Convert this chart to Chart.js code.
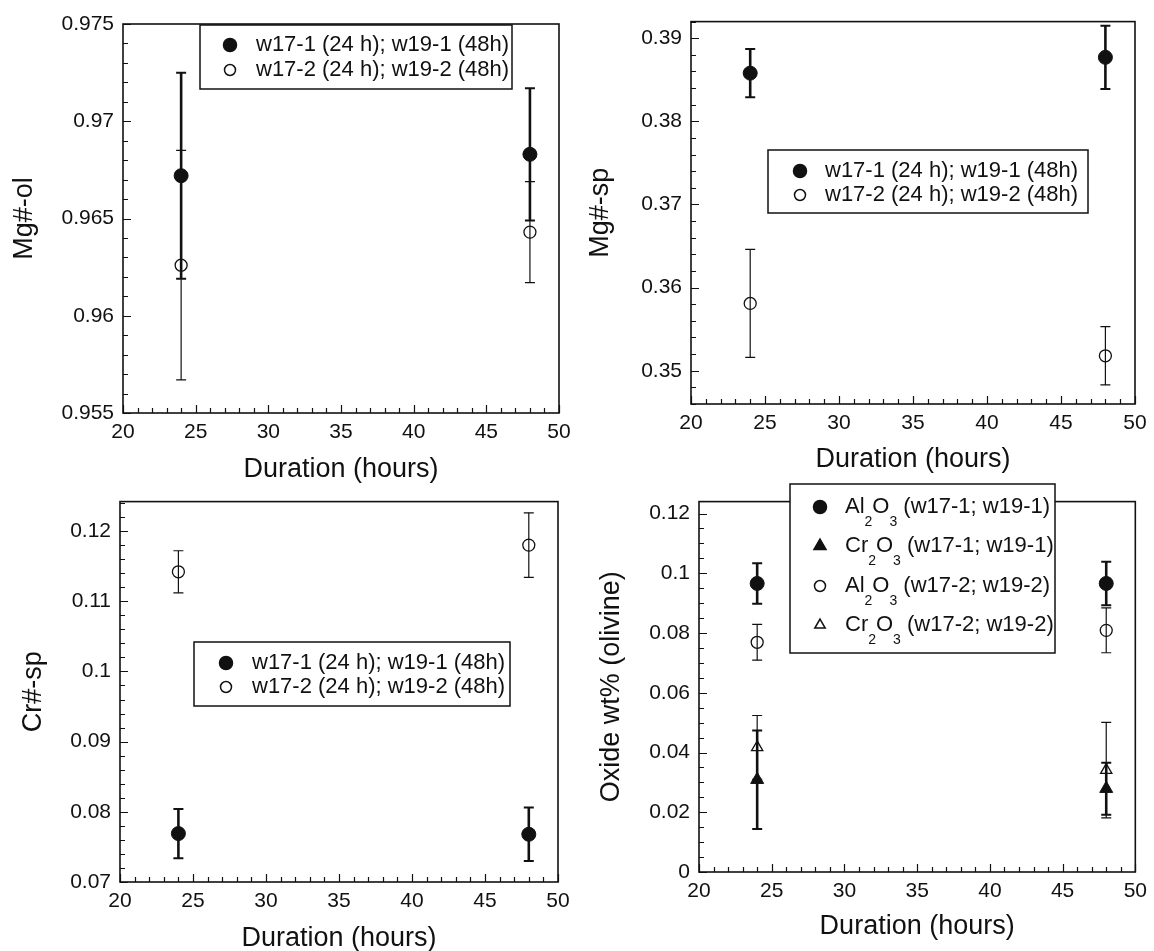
<!DOCTYPE html>
<html>
<head>
<meta charset="utf-8">
<script src="https://cdn.jsdelivr.net/npm/chart.js@4.4.1/dist/chart.umd.min.js"></script>
<style>
    html, body { margin: 0; background: #fff; overflow: hidden; }
    #tela { position: relative; width: 1154px; height: 951px; }
    canvas { position: absolute; }
</style>
</head>
<body>
<div id="tela">
    <canvas id="grafico-mg-ol"></canvas>
    <canvas id="grafico-mg-sp"></canvas>
    <canvas id="grafico-cr-sp"></canvas>
    <canvas id="grafico-oxido"></canvas>
</div>
<script>
// Duração dos experimentos (h)
const horas = [24, 48];

// Mg#-ol
const mgOl1 = [0.9672, 0.9683];
const mgOl1Erro = [0.0053, 0.0034];
const mgOl2 = [0.9626, 0.9643];
const mgOl2Erro = [0.0059, 0.0026];

// Mg#-sp
const mgSp1 = [0.3858, 0.3877];
const mgSp1Erro = [0.0029, 0.0038];
const mgSp2 = [0.3581, 0.3518];
const mgSp2Erro = [0.0065, 0.0035];

// Cr#-sp
const crSp1 = [0.0769, 0.0768];
const crSp1Erro = [0.0035, 0.0038];
const crSp2 = [0.1142, 0.1180];
const crSp2Erro = [0.0030, 0.0046];

// Oxide wt% (olivine)
const al1 = [0.0966, 0.0966];
const al1Erro = [0.0068, 0.0073];
const cr1 = [0.0309, 0.0279];
const cr1Erro = [0.0165, 0.0087];
const al2 = [0.0769, 0.0809];
const al2Erro = [0.0060, 0.0075];
const cr2 = [0.0417, 0.0341];
const cr2Erro = [0.0107, 0.0160];

// Ticks
const xTicks = [20, 25, 30, 35, 40, 45, 50];
const yTicksMgOl = [0.955, 0.96, 0.965, 0.97, 0.975];
const yTicksMgSp = [0.35, 0.36, 0.37, 0.38, 0.39];
const yTicksCrSp = [0.07, 0.08, 0.09, 0.1, 0.11, 0.12];
const yTicksOxido = [0, 0.02, 0.04, 0.06, 0.08, 0.1, 0.12];

const preto = '#111';
const fonte = "'Liberation Sans', Arial, Helvetica, sans-serif";
Chart.defaults.font.family = fonte;
Chart.defaults.color = preto;

function serie(label, valores, erros, tipo) {
    const cheio = tipo === 'circulo' || tipo === 'triangulo';
    const tri = tipo === 'triangulo' || tipo === 'triAberto';
    return {
        label: label,
        data: horas.map((h, i) => ({ x: h, y: valores[i] })),
        erros: erros,
        pointStyle: tri ? 'triangle' : 'circle',
        pointRadius: tri ? (cheio ? 7.5 : 6.5) : (cheio ? 7 : 6),
        backgroundColor: cheio ? preto : 'rgba(0,0,0,0)',
        borderColor: preto,
        borderWidth: cheio ? 1 : 1.3,
        larguraErro: cheio ? 2.6 : 1.2,
        showLine: false
    };
}

// barras de erro, desenhadas pela escala do próprio gráfico
const barrasErro = {
    id: 'barrasErro',
    beforeDatasetsDraw(chart) {
        const { ctx, scales: { x, y } } = chart;
        ctx.save();
        ctx.strokeStyle = preto;
        chart.data.datasets.forEach(ds => {
            ds.data.forEach((p, i) => {
                const px = x.getPixelForValue(p.x);
                const topo = y.getPixelForValue(p.y + ds.erros[i]);
                const base = y.getPixelForValue(p.y - ds.erros[i]);
                ctx.lineWidth = ds.larguraErro;
                ctx.beginPath();
                ctx.moveTo(px, topo); ctx.lineTo(px, base);
                ctx.stroke();
                ctx.lineWidth = Math.max(1.2, ds.larguraErro - 0.6);
                ctx.beginPath();
                ctx.moveTo(px - 5, topo); ctx.lineTo(px + 5, topo);
                ctx.moveTo(px - 5, base); ctx.lineTo(px + 5, base);
                ctx.stroke();
            });
        });
        ctx.restore();
    }
};

// moldura e ticks para dentro
const moldura = {
    id: 'moldura',
    afterDatasetsDraw(chart, args, opts) {
        const { ctx, chartArea: a, scales: { x, y } } = chart;
        ctx.save();
        ctx.strokeStyle = preto;
        ctx.lineWidth = 1.2;
        ctx.beginPath();
        for (let k = Math.ceil(x.min); k <= x.max; k++) {
            const px = Math.round(x.getPixelForValue(k)) + 0.5;
            const len = k % 5 === 0 ? 8 : 5;
            ctx.moveTo(px, a.bottom); ctx.lineTo(px, a.bottom - len);
        }
        const passo = opts.yMenor;
        for (let k = Math.ceil(y.min / passo - 1e-6); k * passo <= y.max + 1e-9; k++) {
            const v = k * passo;
            const py = Math.round(y.getPixelForValue(v)) + 0.5;
            const maior = opts.yMaior.some(t => Math.abs(t - v) < passo / 10);
            ctx.moveTo(a.left, py); ctx.lineTo(a.left + (maior ? 8 : 5), py);
        }
        ctx.stroke();
        ctx.lineWidth = 1.6;
        ctx.strokeRect(a.left, a.top, a.right - a.left, a.bottom - a.top);
        ctx.restore();
    }
};

// legenda em caixa, com subscritos (_2)
const legenda = {
    id: 'legenda',
    afterDraw(chart, args, opts) {
        const ctx = chart.ctx;
        const [bx, by, bw, bh] = opts.caixa;
        ctx.save();
        ctx.fillStyle = '#fff';
        ctx.fillRect(bx, by, bw, bh);
        ctx.strokeStyle = preto;
        ctx.lineWidth = 1.5;
        ctx.strokeRect(bx, by, bw, bh);
        chart.data.datasets.forEach((ds, i) => {
            const y = opts.linhas[i];
            ctx.fillStyle = ds.backgroundColor;
            ctx.strokeStyle = ds.borderColor;
            Chart.helpers.drawPoint(ctx, {
                pointStyle: ds.pointStyle,
                radius: ds.pointRadius - 0.5,
                borderWidth: ds.borderWidth,
                rotation: 0
            }, opts.xMarca, y);
            let x = opts.xTexto;
            ctx.fillStyle = preto;
            ctx.textAlign = 'left';
            ctx.textBaseline = 'middle';
            ds.label.split(/(_\d)/).filter(t => t).forEach(t => {
                const sub = t[0] === '_';
                const txt = sub ? t.slice(1) : t;
                ctx.font = (sub ? '14px ' : '22px ') + fonte;
                ctx.fillText(txt, x, sub ? y + 15 : y);
                x += ctx.measureText(txt).width;
            });
        });
        ctx.restore();
    }
};

function plotarPainel(id, g) {
    const [cx, cy, cw, ch] = g.canvas;
    const [L, T, R, B] = g.area;
    const tam = 27;
    const padL = g.yTitulo - cx - tam / 2;
    const yLarg = L - cx - padL;
    const xBase = g.xTitulo + tam / 2;
    const xAlt = xBase - B;

    const el = document.getElementById(id);
    el.width = cw;
    el.height = ch;
    el.style.left = cx + 'px';
    el.style.top = cy + 'px';

    const leg = g.legenda;
    return new Chart(el, {
        type: 'scatter',
        data: { datasets: g.series },
        options: {
            responsive: false,
            animation: false,
            devicePixelRatio: 1,
            layout: { padding: { left: padL, right: cx + cw - R, top: T - cy, bottom: cy + ch - xBase } },
            scales: {
                x: {
                    type: 'linear', min: 20, max: 50,
                    afterBuildTicks: s => { s.ticks = xTicks.map(v => ({ value: v })); },
                    afterFit: s => { s.height = xAlt; },
                    grid: { display: false, drawTicks: false },
                    border: { display: false },
                    ticks: { font: { size: 21 }, padding: 7, maxRotation: 0, autoSkip: false },
                    title: { display: true, text: 'Duration (hours)', font: { size: tam, lineHeight: 1 }, padding: 0 }
                },
                y: {
                    type: 'linear', min: g.yMin, max: g.yMax,
                    afterBuildTicks: s => { s.ticks = g.yTicks.map(v => ({ value: v })); },
                    afterFit: s => { s.width = yLarg; },
                    grid: { display: false, drawTicks: false },
                    border: { display: false },
                    ticks: { font: { size: 21 }, padding: 9, autoSkip: false, callback: v => String(+v.toFixed(4)) },
                    title: { display: true, text: g.titulo, font: { size: tam, lineHeight: 1 }, padding: 0 }
                }
            },
            plugins: {
                legend: { display: false },
                tooltip: { enabled: false },
                moldura: { yMenor: g.yMenor, yMaior: g.yTicks },
                legenda: {
                    caixa: [leg.caixa[0] - cx, leg.caixa[1] - cy, leg.caixa[2], leg.caixa[3]],
                    linhas: leg.linhas.map(v => v - cy),
                    xMarca: leg.xMarca - cx,
                    xTexto: leg.xTexto - cx
                }
            }
        },
        plugins: [barrasErro, moldura, legenda]
    });
}

let graficoMgOl = plotarPainel('grafico-mg-ol', {
    canvas: [0, 0, 580, 492], area: [123, 24, 559, 413], yTitulo: 25, xTitulo: 470,
    titulo: 'Mg#-ol', yMin: 0.955, yMax: 0.975, yTicks: yTicksMgOl, yMenor: 0.001,
    series: [
        serie('w17-1 (24 h); w19-1 (48h)', mgOl1, mgOl1Erro, 'circulo'),
        serie('w17-2 (24 h); w19-2 (48h)', mgOl2, mgOl2Erro, 'aberto')
    ],
    legenda: { caixa: [200, 25, 312, 64], linhas: [45, 70], xMarca: 230, xTexto: 256 }
});

let graficoMgSp = plotarPainel('grafico-mg-sp', {
    canvas: [580, 0, 574, 492], area: [691, 16, 1135, 404], yTitulo: 601, xTitulo: 460,
    titulo: 'Mg#-sp', yMin: 0.346, yMax: 0.392, yTicks: yTicksMgSp, yMenor: 0.002,
    series: [
        serie('w17-1 (24 h); w19-1 (48h)', mgSp1, mgSp1Erro, 'circulo'),
        serie('w17-2 (24 h); w19-2 (48h)', mgSp2, mgSp2Erro, 'aberto')
    ],
    legenda: { caixa: [768, 150, 320, 63], linhas: [171, 195], xMarca: 800, xTexto: 825 }
});

let graficoCrSp = plotarPainel('grafico-cr-sp', {
    canvas: [0, 480, 580, 476], area: [120, 493, 558, 882], yTitulo: 34, xTitulo: 939,
    titulo: 'Cr#-sp', yMin: 0.07, yMax: 0.1242, yTicks: yTicksCrSp, yMenor: 0.002,
    series: [
        serie('w17-1 (24 h); w19-1 (48h)', crSp1, crSp1Erro, 'circulo'),
        serie('w17-2 (24 h); w19-2 (48h)', crSp2, crSp2Erro, 'aberto')
    ],
    legenda: { caixa: [194, 642, 316, 64], linhas: [663, 687], xMarca: 226, xTexto: 252 }
});

let graficoOxido = plotarPainel('grafico-oxido', {
    canvas: [580, 480, 574, 476], area: [699, 484, 1139, 872], yTitulo: 612, xTitulo: 927,
    titulo: 'Oxide wt% (olivine)', yMin: 0, yMax: 0.124, yTicks: yTicksOxido, yMenor: 0.005,
    series: [
        serie('Al_2O_3 (w17-1; w19-1)', al1, al1Erro, 'circulo'),
        serie('Cr_2O_3 (w17-1; w19-1)', cr1, cr1Erro, 'triangulo'),
        serie('Al_2O_3 (w17-2; w19-2)', al2, al2Erro, 'aberto'),
        serie('Cr_2O_3 (w17-2; w19-2)', cr2, cr2Erro, 'triAberto')
    ],
    legenda: { caixa: [790, 484, 265, 169], linhas: [507, 546, 586, 625], xMarca: 820, xTexto: 845 }
});
</script>
</body>
</html>
